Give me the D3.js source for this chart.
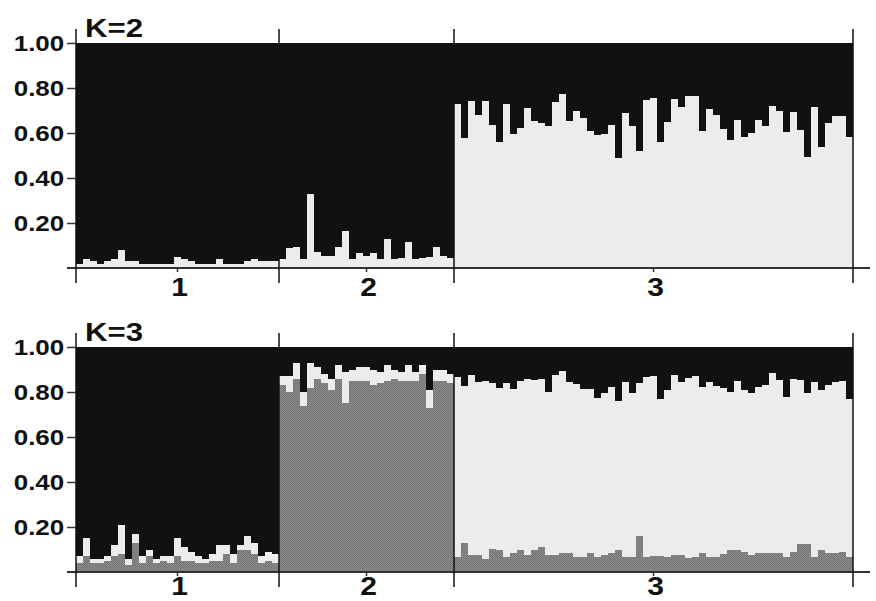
<!DOCTYPE html>
<html>
<head>
<meta charset="utf-8">
<script src="https://cdn.jsdelivr.net/npm/d3@7"></script>
<style>
  body { margin: 0; background: #fff; }
  svg { display: block; }
  text { font-family: "Liberation Sans", Arial, sans-serif; font-weight: bold; fill: #111; }
</style>
</head>
<body>
<svg id="chart" width="876" height="601"></svg>
<script>
var popLabels = ["1", "2", "3"];
var panelTitles = ["K=2", "K=3"];
var yTicks = [0.2, 0.4, 0.6, 0.8, 1.0];

// K=2: share of the light cluster for each individual (rest is dark)
var k2Light1 = [0.02,0.04,0.03,0.02,0.03,0.04,0.08,0.03,0.03,0.02,0.02,0.02,0.02,0.02,0.05,
                0.04,0.03,0.02,0.02,0.02,0.04,0.02,0.02,0.02,0.03,0.04,0.03,0.03,0.03];
var k2Light2 = [0.039,0.087,0.095,0.039,0.33,0.072,0.053,0.053,0.095,0.166,0.039,0.068,0.053,
                0.065,0.039,0.129,0.039,0.043,0.114,0.039,0.043,0.05,0.095,0.053,0.045];
var k2Light3 = [0.729,0.576,0.744,0.68,0.744,0.636,0.561,0.729,0.596,0.621,0.713,0.653,0.646,
                0.631,0.739,0.772,0.653,0.699,0.665,0.609,0.591,0.596,0.636,0.49,0.687,0.631,
                0.52,0.747,0.757,0.561,0.65,0.751,0.717,0.766,0.766,0.61,0.707,0.68,0.618,0.569,
                0.658,0.581,0.601,0.658,0.631,0.72,0.698,0.606,0.695,0.613,0.495,0.714,0.539,
                0.646,0.677,0.677,0.581];

// K=3: gray cluster and light cluster shares (rest is dark)
var k3Gray1 = [0.04,0.07,0.04,0.04,0.05,0.07,0.08,0.03,0.13,0.04,0.07,0.04,0.05,0.04,0.07,
               0.05,0.05,0.04,0.04,0.05,0.05,0.08,0.04,0.10,0.10,0.08,0.04,0.05,0.04];
var k3Light1 = [0.03,0.08,0.02,0.02,0.02,0.05,0.13,0.03,0.04,0.03,0.03,0.02,0.02,0.03,0.08,
                0.06,0.04,0.03,0.02,0.03,0.07,0.04,0.04,0.02,0.06,0.05,0.03,0.04,0.04];
var k3Gray2 = [0.83,0.80,0.86,0.74,0.82,0.86,0.84,0.81,0.86,0.75,0.85,0.85,0.85,0.83,0.84,
               0.85,0.86,0.85,0.85,0.85,0.88,0.73,0.85,0.85,0.84];
var k3Light2 = [0.04,0.07,0.07,0.06,0.11,0.05,0.04,0.05,0.06,0.14,0.05,0.06,0.06,0.07,0.05,
                0.07,0.04,0.04,0.07,0.04,0.04,0.08,0.05,0.05,0.04];
var k3Gray3 = [0.065,0.127,0.076,0.076,0.058,0.102,0.098,0.068,0.083,0.098,0.076,0.098,0.11,
               0.076,0.076,0.083,0.083,0.065,0.065,0.083,0.065,0.076,0.083,0.098,0.065,0.065,
               0.16,0.065,0.07,0.071,0.068,0.076,0.076,0.062,0.068,0.083,0.068,0.068,0.08,0.1,
               0.1,0.091,0.076,0.083,0.083,0.083,0.083,0.068,0.091,0.124,0.124,0.068,0.1,0.086,
               0.086,0.087,0.068];
var k3Light3 = [0.80,0.70,0.80,0.77,0.79,0.74,0.72,0.77,0.73,0.75,0.78,0.755,0.75,0.725,0.80,
                0.81,0.76,0.77,0.75,0.73,0.71,0.72,0.74,0.66,0.78,0.73,0.68,0.80,0.80,0.70,
                0.74,0.80,0.77,0.80,0.805,0.74,0.775,0.76,0.74,0.70,0.75,0.72,0.72,0.74,0.75,
                0.80,0.77,0.71,0.765,0.73,0.67,0.775,0.71,0.745,0.757,0.763,0.70];

var svg = d3.select("#chart"),
    plotLeft = 76,
    plotRight = 853,
    panelHeight = 225,
    panelTops = [43, 347],
    labelOffsets = [28, 23]; // bottom row kept inside the 601px frame

var color = { dark: "#111111", light: "#ececec", gray: "url(#dither)" };

// dithered gray like the original print
var pat = svg.append("defs").append("pattern")
    .attr("id", "dither").attr("width", 2).attr("height", 2)
    .attr("patternUnits", "userSpaceOnUse");
pat.append("rect").attr("width", 2).attr("height", 2).attr("fill", "#8c8c8c");
pat.append("rect").attr("width", 1).attr("height", 1).attr("fill", "#747474");
pat.append("rect").attr("x", 1).attr("y", 1).attr("width", 1).attr("height", 1).attr("fill", "#747474");

function rowsK2() {
  var rows = [];
  [k2Light1, k2Light2, k2Light3].forEach(function(arr, p) {
    arr.forEach(function(v) { rows.push({pop: p, light: v, dark: 1 - v}); });
  });
  return rows;
}

function rowsK3() {
  var rows = [];
  [[k3Gray1, k3Light1], [k3Gray2, k3Light2], [k3Gray3, k3Light3]].forEach(function(pair, p) {
    pair[0].forEach(function(g, i) {
      var l = pair[1][i];
      rows.push({pop: p, gray: g, light: l, dark: 1 - g - l});
    });
  });
  return rows;
}

var panels = [
  {title: panelTitles[0], keys: ["light", "dark"], rows: rowsK2(), top: panelTops[0], labelOffset: labelOffsets[0]},
  {title: panelTitles[1], keys: ["gray", "light", "dark"], rows: rowsK3(), top: panelTops[1], labelOffset: labelOffsets[1]}
];

var popSizes = [k2Light1.length, k2Light2.length, k2Light3.length];
var popStarts = [0];
popSizes.forEach(function(n, i) { popStarts.push(popStarts[i] + n); });

var xScale = d3.scaleBand()
    .domain(d3.range(popStarts[3]))
    .range([plotLeft, plotRight])
    .padding(0);

function edge(i) { return i >= popStarts[3] ? plotRight : xScale(i); }

panels.forEach(function(panel) {
  var yScale = d3.scaleLinear().domain([0, 1]).range([panel.top + panelHeight, panel.top]);
  var g = svg.append("g");

  var series = d3.stack().keys(panel.keys)(panel.rows);

  g.selectAll(".layer")
    .data(series)
    .enter().append("g")
      .attr("class", "layer")
      .attr("fill", function(d) { return color[d.key]; })
    .selectAll("rect")
      .data(function(d) { return d; })
    .enter().append("rect")
      .attr("x", function(d, i) { return xScale(i); })
      .attr("width", xScale.bandwidth() + 0.3)
      .attr("y", function(d) { return yScale(d[1]); })
      .attr("height", function(d) { return Math.max(0, yScale(d[0]) - yScale(d[1])); })
      .attr("shape-rendering", "crispEdges");

  // bottom line
  g.append("line")
      .attr("x1", 67).attr("x2", 870)
      .attr("y1", yScale(0)).attr("y2", yScale(0))
      .attr("stroke", "#333").attr("stroke-width", 2);

  // population separators
  g.selectAll(".sep")
    .data(popStarts)
    .enter().append("line")
      .attr("class", "sep")
      .attr("x1", function(d) { return edge(d); })
      .attr("x2", function(d) { return edge(d); })
      .attr("y1", panel.top - 14)
      .attr("y2", yScale(0) + 15)
      .attr("stroke", "#111").attr("stroke-width", 1.5);

  // y axis
  var yAxis = d3.axisLeft(yScale)
      .tickValues(yTicks)
      .tickFormat(d3.format(".2f"))
      .tickSize(9)
      .tickPadding(3);

  var ax = g.append("g")
      .attr("transform", "translate(" + plotLeft + ",0)")
      .call(yAxis);
  ax.select(".domain").remove();
  ax.selectAll(".tick line").attr("stroke", "#333").attr("stroke-width", 1.5);
  ax.selectAll(".tick text")
      .attr("x", -10)
      .attr("dy", "0.36em")
      .attr("transform", "scale(1.18,1)")
      .style("font-size", "22px")
      .style("font-family", "'Liberation Sans', Arial, sans-serif")
      .style("font-weight", "bold")
      .attr("fill", "#111");

  // title
  g.append("text")
      .attr("transform", "translate(85," + (panel.top - 6) + ") scale(1.2,1)")
      .style("font-size", "26px")
      .text(panel.title);

  // population labels and centre ticks
  popLabels.forEach(function(lab, p) {
    var cx = (edge(popStarts[p]) + edge(popStarts[p + 1])) / 2;
    g.append("line")
        .attr("x1", cx).attr("x2", cx)
        .attr("y1", yScale(0)).attr("y2", yScale(0) + 4)
        .attr("stroke", "#333").attr("stroke-width", 1.5);
    g.append("text")
        .attr("transform", "translate(" + (cx + 2) + "," + (yScale(0) + panel.labelOffset) + ") scale(1.2,1)")
        .attr("text-anchor", "middle")
        .style("font-size", "25px")
        .text(lab);
  });
});
</script>
</body>
</html>
